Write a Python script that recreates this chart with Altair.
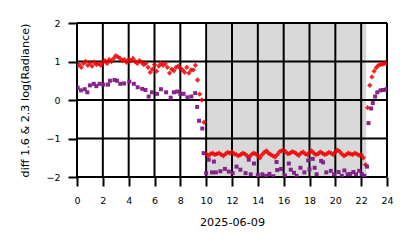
import altair as alt
import pandas as pd

# red series: sampled every 10 minutes from 0 h to 24 h
red_y = [
    0.88, 0.92, 0.85, 0.95, 1.00, 0.90,
    0.96, 0.88, 0.98, 0.92, 0.95, 0.90,
    0.98, 1.02, 0.95, 1.05, 1.00, 1.08,
    1.15, 1.12, 1.08, 1.02, 1.05, 0.98,
    1.05, 1.02, 1.08, 1.00, 0.95, 1.02,
    0.98, 0.92, 0.95, 0.85, 0.72, 0.80,
    0.92, 0.75, 0.88, 0.95, 0.90, 0.94,
    0.85, 0.70, 0.80, 0.76, 0.85, 0.88,
    0.82, 0.78, 0.72, 0.85, 0.70, 0.78,
    0.78, 0.90, 0.52, 0.15, 0.00, -0.58,
    -1.40, -1.45, -1.40, -1.38, -1.42, -1.40,
    -1.38, -1.42, -1.45, -1.40, -1.36, -1.38,
    -1.35, -1.40, -1.42, -1.45, -1.42, -1.38,
    -1.40, -1.45, -1.48, -1.42, -1.38, -1.40,
    -1.45, -1.50, -1.42, -1.36, -1.32, -1.38,
    -1.42, -1.45, -1.48, -1.42, -1.35, -1.32,
    -1.30, -1.35, -1.40, -1.38, -1.34, -1.36,
    -1.40, -1.44, -1.38, -1.35, -1.40, -1.42,
    -1.36, -1.32, -1.38, -1.42, -1.40, -1.35,
    -1.38, -1.42, -1.40, -1.36, -1.38, -1.42,
    -1.35, -1.30, -1.34, -1.40, -1.45, -1.42,
    -1.38, -1.40, -1.42, -1.38, -1.40, -1.44,
    -1.42, -1.50, -1.68, -0.20, 0.38, 0.60,
    0.75, 0.84, 0.90, 0.92, 0.93, 0.95,
    0.95,
]
red_x = [i / 6 for i in range(len(red_y))]

# purple series: irregular sampling
purple_x = [
    0.05, 0.3, 0.6, 0.8, 1.0, 1.3, 1.5, 1.75, 2.05, 2.4, 2.55, 2.9, 3.1, 3.35,
    3.65, 4.05, 4.4, 4.7, 5.05, 5.3, 5.55, 5.8, 6.2, 6.5, 6.9, 7.25, 7.5, 7.75,
    8.0, 8.25, 8.55, 8.85, 9.15, 9.3, 9.45, 9.7, 9.8, 10.0,
    10.2, 10.45, 10.6, 10.75, 11.1, 11.45, 11.75, 12.05, 12.35, 12.65, 13.05,
    13.3, 13.45, 13.7, 14.0, 14.35, 14.65, 14.9, 15.2, 15.45, 15.5, 15.8, 16.1,
    16.4, 16.55, 16.8, 17.0, 17.3, 17.6, 17.9, 18.0, 18.25, 18.4, 18.55, 18.9,
    19.05, 19.3, 19.65, 19.9, 20.25, 20.5, 20.7, 20.95, 21.15, 21.4, 21.6,
    21.85, 22.05, 22.25, 22.45,
    22.57, 22.77, 22.9, 23.08, 23.25, 23.5, 23.7, 23.9, 24.0,
]
purple_y = [
    0.32, 0.25, 0.28, 0.20, 0.38, 0.42, 0.36, 0.42, 0.40, 0.40, 0.50, 0.52, 0.50, 0.42,
    0.43, 0.48, 0.42, 0.33, 0.29, 0.26, 0.09, 0.20, 0.16, 0.28, 0.20, 0.06, 0.20, 0.22,
    0.16, 0.16, 0.07, 0.09, 0.18, -0.18, -0.54, -0.74, -1.38, -1.90,
    -1.55, -1.88, -1.60, -1.88, -1.85, -1.79, -1.86, -1.90, -1.73, -1.81, -1.90,
    -1.55, -1.93, -1.65, -1.95, -1.93, -1.97, -1.92, -1.98, -1.61, -1.82, -1.79, -1.96,
    -1.65, -1.81, -1.89, -1.97, -1.76, -1.88, -1.57, -1.80, -1.53, -1.76, -1.93, -1.58,
    -1.62, -1.88, -1.84, -1.93, -1.87, -1.97, -1.83, -1.93, -1.92, -1.87, -1.93,
    -1.84, -1.93, -1.97, -1.73,
    -0.60, -0.22, -0.08, 0.09, 0.20, 0.25, 0.26, 0.27, 0.28,
]

night_start = [10.1]
night_end = [22.4]
x_ticks = [0, 2, 4, 6, 8, 10, 12, 14, 16, 18, 20, 22, 24]
y_ticks = [-2, -1, 0, 1, 2]

red_df = pd.DataFrame({"t": red_x, "v": red_y})
purple_df = pd.DataFrame({"t": purple_x, "v": purple_y})
night_df = pd.DataFrame({"t": night_start, "b": night_end, "v": [-2], "hi": [2]})
xg_df = pd.DataFrame({"t": x_ticks})
yg_df = pd.DataFrame({"v": y_ticks})

xscale = alt.Scale(domain=[0, 24], nice=False, zero=False)
yscale = alt.Scale(domain=[-2, 2], nice=False, zero=False)

xaxis = alt.Axis(values=x_ticks, title="2025-06-09", grid=False, domain=False,
                 tickColor="black", tickWidth=2, tickSize=9, labelPadding=9,
                 titlePadding=12, labelOverlap=False, labelFlush=False)
yaxis = alt.Axis(values=y_ticks, title="diff 1.6 & 2.3  log(Radiance)", grid=False,
                 domain=False, tickColor="black", tickWidth=2, tickSize=9,
                 labelPadding=8, titlePadding=15, format="d",
                 labelOverlap=False, labelFlush=False)

X = alt.X("t:Q", scale=xscale, axis=xaxis)
Y = alt.Y("v:Q", scale=yscale, axis=yaxis)

night = alt.Chart(night_df).mark_rect(color="#d9d9d9").encode(
    x=X, x2="b:Q", y=Y, y2="hi:Q",
)

xgrid = alt.Chart(xg_df).mark_rule(color="black", strokeWidth=2).encode(x=X)
ygrid = alt.Chart(yg_df).mark_rule(color="black", strokeWidth=2).encode(y=Y)

red = alt.Chart(red_df).mark_point(shape="diamond", filled=True, size=28,
                                   color="#f00000", opacity=0.85, clip=True).encode(
    x=X, y=Y,
)
purple = alt.Chart(purple_df).mark_point(shape="square", filled=True, size=16,
                                         color="#7f1a86", opacity=0.95, clip=True).encode(
    x=X, y=Y,
)

chart = alt.layer(night, xgrid, ygrid, red, purple).properties(
    width=310, height=154,
    autosize=alt.AutoSizeParams(type="none"),
    padding={"left": 77, "top": 23, "right": 27, "bottom": 71},
).configure_view(stroke=None).configure_axis(
    labelFont="DejaVu Sans", titleFont="DejaVu Sans",
    labelFontSize=9.5, titleFontSize=11.2, titleFontWeight="normal",
    labelColor="black", titleColor="black", labelOverlap=False,
)

chart.save("out.html", embed_options={"renderer": "svg", "actions": False})
